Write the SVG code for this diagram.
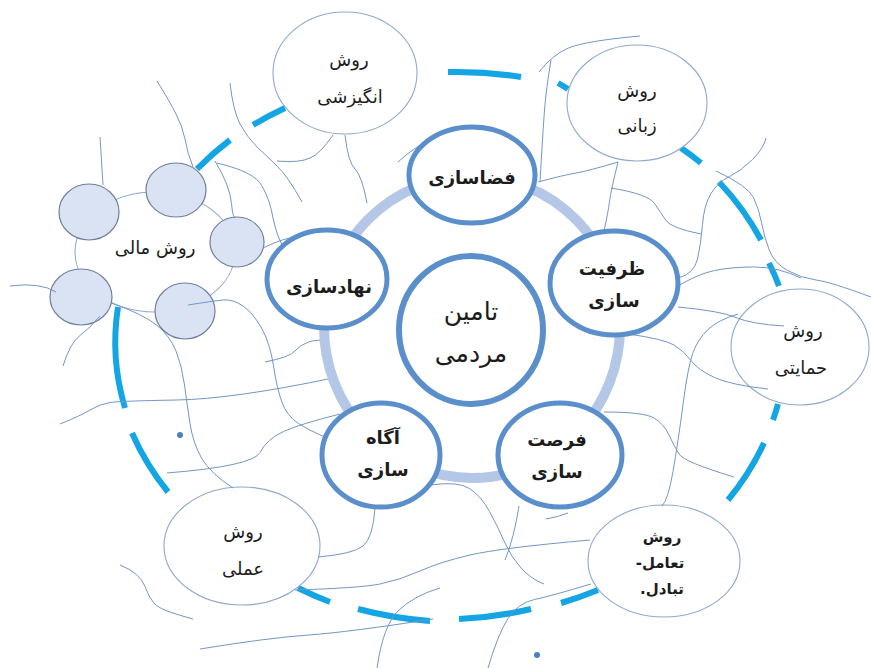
<svg xmlns="http://www.w3.org/2000/svg" width="871" height="668" viewBox="0 0 871 668">
<style>
.dash{fill:none;stroke:#14a5e4;stroke-width:6;stroke-linecap:butt}
.outer{fill:#fff;stroke:#8ea9cf;stroke-width:1.1}
.coin{fill:#dae3f3;stroke:#6f7f9a;stroke-width:1.2}
.con{fill:none;stroke:#7396c6;stroke-width:1}
.ring{fill:none;stroke:#b4c7e7;stroke-width:10}
.rn{fill:#fff;stroke:#5b8fcc;stroke-width:5}
.t{font-family:"DejaVu Sans",sans-serif;fill:#1c1c1c;text-anchor:middle;dominant-baseline:central;direction:rtl}
.o{font-size:18px}
.b{font-size:18px;font-weight:bold}
.s{font-size:15px;font-weight:bold}
.c{font-size:25px}
</style>
<rect width="871" height="668" fill="#fff"/>
<g id="orbit">
<path class="dash" d="M197,169 A330,273 0 0 1 230,140"/>
<path class="dash" d="M253,125 A330,273 0 0 1 285,108"/>
<path class="dash" d="M448,72 A330,273 0 0 1 521,77"/>
<path class="dash" d="M558,83 A330,273 0 0 1 568,89"/>
<path class="dash" d="M681,148 A330,273 0 0 1 701,163"/>
<path class="dash" d="M719,182 A330,273 0 0 1 761,240"/>
<path class="dash" d="M769,263 A330,273 0 0 1 779,286"/>
<path class="dash" d="M778,404 A330,273 0 0 1 773,420"/>
<path class="dash" d="M764,443 A330,273 0 0 1 728,500"/>
<path class="dash" d="M598,590 A330,273 0 0 1 561,603"/>
<path class="dash" d="M531,609 A330,273 0 0 1 459,619"/>
<path class="dash" d="M430,621 A330,273 0 0 1 358,609"/>
<path class="dash" d="M330,602 A330,273 0 0 1 298,588"/>
<path class="dash" d="M168,492 A330,273 0 0 1 132,433"/>
<path class="dash" d="M125,408 A330,273 0 0 1 118,307"/>
</g>
<g id="node-angizeshi"><ellipse class="outer" cx="345" cy="73" rx="72" ry="61"/><text class="t o" x="349" y="59">روش</text><text class="t o" x="350" y="96">انگیزشی</text></g>
<g id="node-zabani"><ellipse class="outer" cx="637" cy="103" rx="70" ry="58"/><text class="t o" x="637" y="90">روش</text><text class="t o" x="637" y="125">زبانی</text></g>
<g id="node-hemayati"><ellipse class="outer" cx="800" cy="347" rx="69" ry="58"/><text class="t o" x="803" y="330">روش</text><text class="t o" x="801" y="367">حمایتی</text></g>
<g id="node-amali"><ellipse class="outer" cx="242" cy="546" rx="78" ry="59"/><text class="t o" x="243" y="531">روش</text><text class="t o" x="243" y="568">عملی</text></g>
<g id="node-taamol"><ellipse class="outer" cx="664" cy="561" rx="76" ry="56"/><text class="t s" x="662" y="537">روش</text><text class="t s" x="660" y="563">تعامل-</text><text class="t s" x="662" y="589">تبادل.</text></g>
<g id="node-mali">
<ellipse class="outer" cx="155" cy="252" rx="80" ry="60"/>
<ellipse class="coin" cx="89" cy="212" rx="30" ry="28"/>
<ellipse class="coin" cx="176" cy="190" rx="30" ry="27"/>
<ellipse class="coin" cx="237" cy="242" rx="27" ry="25"/>
<ellipse class="coin" cx="81" cy="297" rx="31" ry="28"/>
<ellipse class="coin" cx="185" cy="311" rx="30" ry="28"/>
<text class="t o" x="155" y="247">روش مالی</text>
</g>
<g id="connectors">
<path class="con" d="M157,81 Q170,102 176,114 Q182,125 185,139 Q187,152 193,167"/>
<path class="con" d="M230,83 Q233,110 240,124 Q247,137 257,147 Q267,156 277,166 Q287,175 302,202"/>
<path class="con" d="M345,135 Q348,162 355,169 Q362,176 367,203"/>
<path class="con" d="M277,161 Q300,163 310,158 Q320,154 333,135"/>
<path class="con" d="M398,162 Q417,144 440,136"/>
<path class="con" d="M100,137 L103,185"/>
<path class="con" d="M215,161 Q230,186 231.5,203.5 Q233,221 236,217"/>
<path class="con" d="M217,163 Q255,172 262,186 Q270,200 273,218 Q277,237 284,248"/>
<path class="con" d="M263,248 Q283,238 300,236"/>
<path class="con" d="M10,286 Q40,282 56,292"/>
<path class="con" d="M63,366 Q70,343 80,335.5 Q90,328 100,316"/>
<path class="con" d="M111,303 Q143,314 156.5,325 Q170,336 176,351 Q182,366 184.5,385 Q187,404 190,423.5 Q193,443 201.5,458 Q210,473 233,488"/>
<path class="con" d="M188,305 Q213,301 223,300 Q233,299 243,306 Q253,313 261.5,328 Q270,343 273.5,366 Q277,389 282,402.5 Q287,416 298.5,423.5 Q310,431 325,437"/>
<path class="con" d="M265,362 Q290,357 295,351 Q300,345 308.5,342 Q317,339 328,341"/>
<path class="con" d="M60,424 Q80,416 90,410 Q100,404 110,402.5 Q120,401 176.5,400 Q233,399 333,378"/>
<path class="con" d="M167,473 Q253,466 260,452.5 Q267,439 283.5,431.5 Q300,424 340,414"/>
<path class="con" d="M375,508 Q373,538 363,546 Q353,554 318,557"/>
<path class="con" d="M295,590 Q360,588 380,584 Q400,580 420,571 Q440,562 470,555 Q500,548 590,540"/>
<path class="con" d="M120,565 Q140,573 145,586.5 Q150,600 156.5,605.5 Q163,611 193,619"/>
<path class="con" d="M200,649 Q267,638 308.5,635 Q350,632 433,619"/>
<path class="con" d="M377,668 Q383,626 398,611 Q413,596 440,588"/>
<path class="con" d="M539,72 Q552,55 568.5,48 Q585,41 640,36"/>
<path class="con" d="M538,182 Q564,175 576,173 Q588,171 618,162"/>
<path class="con" d="M551,60 Q546,90 544.5,110 Q543,130 540,182"/>
<path class="con" d="M618,162 Q611,190 609.5,201.5 Q608,213 604,231"/>
<path class="con" d="M611,188 Q648,194 654.5,203.5 Q661,213 666,220.5 Q671,228 701,234"/>
<path class="con" d="M678,278 Q694,274 697.5,259 Q701,244 702.5,224.5 Q704,205 711,193.5 Q718,182 729.5,176.5 Q741,171 752.5,159.5 Q764,148 766,138"/>
<path class="con" d="M716,171 Q748,186 753.5,197.5 Q759,209 761.5,222.5 Q764,236 769,249.5 Q774,263 787.5,270.5 Q801,278 816,280 Q831,282 871,297"/>
<path class="con" d="M678,286 Q698,274 714.5,270.5 Q731,267 754.5,267 Q778,267 801,278"/>
<path class="con" d="M678,307 Q721,311 736,317.5 Q751,324 784,326"/>
<path class="con" d="M628,334 Q664,339 674,345 Q684,351 691,360.5 Q698,370 714.5,377.5 Q731,385 768,389"/>
<path class="con" d="M738,314 Q718,320 708,329.5 Q698,339 693,352.5 Q688,366 683,404.5 Q678,443 673,471.5 Q668,500 662,506"/>
<path class="con" d="M604,412 Q644,412 654,418 Q664,424 669,435 Q674,446 679,454 Q684,462 734,477"/>
<path class="con" d="M519,506 Q514,538 505,560"/>
<path class="con" d="M568,513 Q558,517 546,519"/>
<path class="con" d="M431,485 Q458,481 469.5,488.5 Q481,496 489.5,511.5 Q498,527 504.5,542 Q511,557 521,568 Q531,579 544,584"/>
<path class="con" d="M591,584 Q551,596 534.5,599.5 Q518,603 508,618.5 Q498,634 488,668"/>
</g>
<circle cx="180" cy="435" r="3" fill="#4f7fbf"/>
<circle cx="537" cy="655" r="3" fill="#4f7fbf"/>
<ellipse class="ring" cx="472" cy="327" rx="148" ry="151"/>
<g id="node-fazasazi"><ellipse class="rn" cx="472" cy="175" rx="63" ry="48"/><text class="t b" x="472" y="177">فضاسازی</text></g>
<g id="node-zarfiyat"><ellipse class="rn" cx="614" cy="283" rx="64" ry="52"/><text class="t b" x="612" y="268">ظرفیت</text><text class="t b" x="614" y="300">سازی</text></g>
<g id="node-nehadsazi"><ellipse class="rn" cx="327" cy="279" rx="60" ry="49"/><text class="t b" x="329" y="286">نهادسازی</text></g>
<g id="node-agah"><ellipse class="rn" cx="381" cy="455" rx="59" ry="52"/><text class="t b" x="383" y="437">آگاه</text><text class="t b" x="383" y="469">سازی</text></g>
<g id="node-forsat"><ellipse class="rn" cx="560" cy="455" rx="62" ry="52"/><text class="t b" x="557" y="439">فرصت</text><text class="t b" x="557" y="471">سازی</text></g>
<g id="node-center"><ellipse cx="471" cy="330" rx="72" ry="74" fill="#fff" stroke="#5b8fcc" stroke-width="6"/><text class="t c" x="471" y="311">تامین</text><text class="t c" x="471" y="353">مردمی</text></g>
</svg>
